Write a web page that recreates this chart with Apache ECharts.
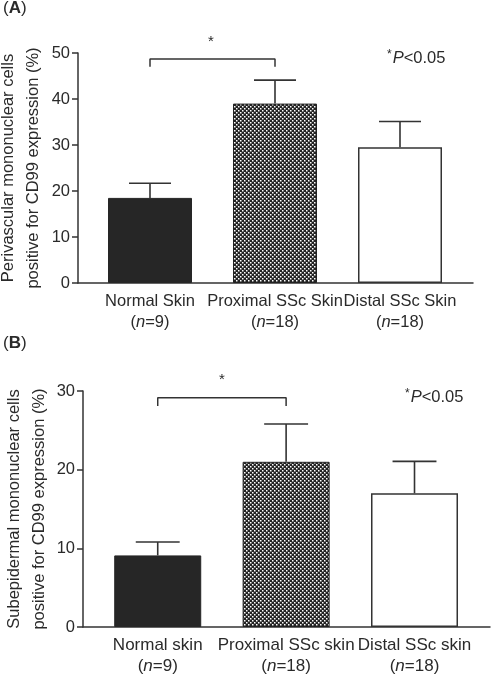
<!DOCTYPE html>
<html>
<head>
<meta charset="utf-8">
<script src="https://cdn.jsdelivr.net/npm/echarts@6/dist/echarts.min.js"></script>
<style>
html,body{margin:0;padding:0;background:#fff;}
#c{width:491px;height:675px;}
</style>
</head>
<body>
<div id="c"></div>
<script>
// Panel A data
const categoriesA = ['Normal Skin', 'Proximal SSc Skin', 'Distal SSc Skin'];
const nA = [9, 18, 18];
const meanA = [18.5, 39.0, 29.5];
const semA = [3.2, 5.1, 5.6];
const bracketA = [47.0, 48.7];
const yTicksA = [0, 10, 20, 30, 40, 50];

// Panel B data
const categoriesB = ['Normal skin', 'Proximal SSc skin', 'Distal SSc skin'];
const nB = [9, 18, 18];
const meanB = [9.1, 21.0, 17.0];
const semB = [1.7, 4.8, 4.05];
const bracketB = [28.1, 29.15];
const yTicksB = [0, 10, 20, 30];

const FONT = 'Liberation Sans, Arial, Helvetica, sans-serif';
const INK = '#2a2a2a';

// hatch pattern
const pc = document.createElement('canvas');
pc.width = 4; pc.height = 4;
const g = pc.getContext('2d');
g.fillStyle = '#232323'; g.fillRect(0, 0, 4, 4);
g.fillStyle = '#ffffff';
g.fillRect(0, 0, 1.5, 1.5);
g.fillRect(2, 2, 1.5, 1.5);
const pattern = {image: pc, repeat: 'repeat'};

const styles = [
  {color: '#262626', borderColor: '#262626', borderWidth: 1},
  {color: pattern, borderColor: '#222', borderWidth: 1},
  {color: '#ffffff', borderColor: '#333', borderWidth: 1.5}
];

function barData(mean) {
  return mean.map((v, i) => ({value: [i, v], itemStyle: styles[i]}));
}
function errData(mean, sem) {
  return mean.map((v, i) => [i, v, v + sem[i]]);
}
function bracketData(b) {
  return [[0, b[0]], [0, b[1]], [1, b[1]], [1, b[0]]];
}
function catFormatter(cats, ns) {
  return function (v) {
    const i = Math.round(v);
    return '{a|' + cats[i] + '}\n{b|(}{i|n}{b|=' + ns[i] + ')}';
  };
}
function makeRich(fs) {
  return {
    a: {fontSize: fs, fontFamily: FONT, color: INK, lineHeight: 21},
    b: {fontSize: fs, fontFamily: FONT, color: INK, lineHeight: 21},
    i: {fontSize: fs, fontFamily: FONT, color: INK, fontStyle: 'italic', lineHeight: 21}
  };
}
function errRender(capHalfUnits) {
  return function (params, api) {
    const x = api.value(0);
    const p0 = api.coord([x, api.value(1)]);
    const p1 = api.coord([x, api.value(2)]);
    const half = api.size([capHalfUnits, 0])[0];
    const st = {stroke: '#333', lineWidth: 1.6};
    return {
      type: 'group',
      children: [
        {type: 'line', shape: {x1: p0[0], y1: p0[1], x2: p1[0], y2: p1[1]}, style: st},
        {type: 'line', shape: {x1: p1[0] - half, y1: p1[1], x2: p1[0] + half, y2: p1[1]}, style: st}
      ]
    };
  };
}

function xAxisFor(gridIndex, min, max, cats, ns, fs) {
  return {
    type: 'value', gridIndex: gridIndex, min: min, max: max,
    splitLine: {show: false},
    axisLine: {show: true, onZero: false, lineStyle: {color: '#333', width: 1.5}},
    axisTick: {show: false},
    axisLabel: {
      customValues: [0, 1, 2],
      formatter: catFormatter(cats, ns),
      margin: 8,
      rich: makeRich(fs),
      align: 'center',
      hideOverlap: false,
      showMinLabel: true,
      showMaxLabel: true
    }
  };
}
function yAxisFor(gridIndex, max, ticks, name, gap) {
  return {
    type: 'value', gridIndex: gridIndex, min: ticks[0], max: max, interval: ticks[1] - ticks[0],
    splitLine: {show: false},
    axisLine: {show: true, onZero: false, lineStyle: {color: '#333', width: 1.5}},
    axisTick: {show: true, length: 6, lineStyle: {color: '#333', width: 1.5}},
    axisLabel: {fontSize: 16.5, fontFamily: FONT, color: INK, margin: 8},
    name: name,
    nameLocation: 'middle',
    nameGap: gap,
    nameMoveOverlap: false,
    nameTextStyle: {fontSize: 16.5, fontFamily: FONT, color: INK, lineHeight: 25}
  };
}

const chart = echarts.init(document.getElementById('c'), null, {renderer: 'canvas'});
chart.setOption({
  backgroundColor: '#fff',
  animation: false,
  grid: [
    {left: 78, right: 18, top: 53, bottom: 392, containLabel: false, outerBoundsMode: 'none'},
    {left: 83, right: 1, top: 391, bottom: 48, containLabel: false, outerBoundsMode: 'none'}
  ],
  xAxis: [
    xAxisFor(0, -0.576, 2.584, categoriesA, nA, 16.5),
    xAxisFor(1, -0.582, 2.588, categoriesB, nB, 17)
  ],
  yAxis: [
    yAxisFor(0, 50, yTicksA, 'Perivascular mononuclear cells\npositive for CD99 expression (%)', 32),
    yAxisFor(1, 30, yTicksB, 'Subepidermal mononuclear cells\npositive for CD99 expression (%)', 31)
  ],
  series: [
    {type: 'bar', xAxisIndex: 0, yAxisIndex: 0, barWidth: 84, data: barData(meanA), z: 2},
    {type: 'custom', xAxisIndex: 0, yAxisIndex: 0, renderItem: errRender(0.168), data: errData(meanA, semA), z: 3},
    {type: 'line', xAxisIndex: 0, yAxisIndex: 0, data: bracketData(bracketA), showSymbol: false, symbol: 'none',
     lineStyle: {color: '#333', width: 1.5}},
    {type: 'bar', xAxisIndex: 1, yAxisIndex: 1, barWidth: 87, data: barData(meanB), z: 2},
    {type: 'custom', xAxisIndex: 1, yAxisIndex: 1, renderItem: errRender(0.171), data: errData(meanB, semB), z: 3},
    {type: 'line', xAxisIndex: 1, yAxisIndex: 1, data: bracketData(bracketB), showSymbol: false, symbol: 'none',
     lineStyle: {color: '#333', width: 1.5}}
  ],
  graphic: [
    {type: 'text', left: 3, top: 0, style: {text: '{p|(}{b|A}{p|)}', rich: {
      p: {fontSize: 17, fontFamily: FONT, fill: INK}, b: {fontSize: 17, fontFamily: FONT, fontWeight: 'bold', fill: INK}}}},
    {type: 'text', left: 3, top: 335, style: {text: '{p|(}{b|B}{p|)}', rich: {
      p: {fontSize: 17, fontFamily: FONT, fill: INK}, b: {fontSize: 17, fontFamily: FONT, fontWeight: 'bold', fill: INK}}}},
    {type: 'text', x: 211, y: 42, style: {text: '*', fontSize: 15, fontFamily: FONT, fill: INK, align: 'center', verticalAlign: 'middle'}},
    {type: 'text', x: 222, y: 380, style: {text: '*', fontSize: 15, fontFamily: FONT, fill: INK, align: 'center', verticalAlign: 'middle'}},
    {type: 'text', x: 387, y: 58, style: {text: '{s|*}{i|P}{n|<0.05}', verticalAlign: 'middle', rich: {
      s: {fontSize: 12, fontFamily: FONT, fill: INK, verticalAlign: 'top', padding: [0, 1, 6, 0]},
      i: {fontSize: 16.5, fontFamily: FONT, fill: INK, fontStyle: 'italic'},
      n: {fontSize: 16.5, fontFamily: FONT, fill: INK}}}},
    {type: 'text', x: 405, y: 397, style: {text: '{s|*}{i|P}{n|<0.05}', verticalAlign: 'middle', rich: {
      s: {fontSize: 12, fontFamily: FONT, fill: INK, verticalAlign: 'top', padding: [0, 1, 6, 0]},
      i: {fontSize: 16.5, fontFamily: FONT, fill: INK, fontStyle: 'italic'},
      n: {fontSize: 16.5, fontFamily: FONT, fill: INK}}}}
  ]
});
</script>
</body>
</html>
